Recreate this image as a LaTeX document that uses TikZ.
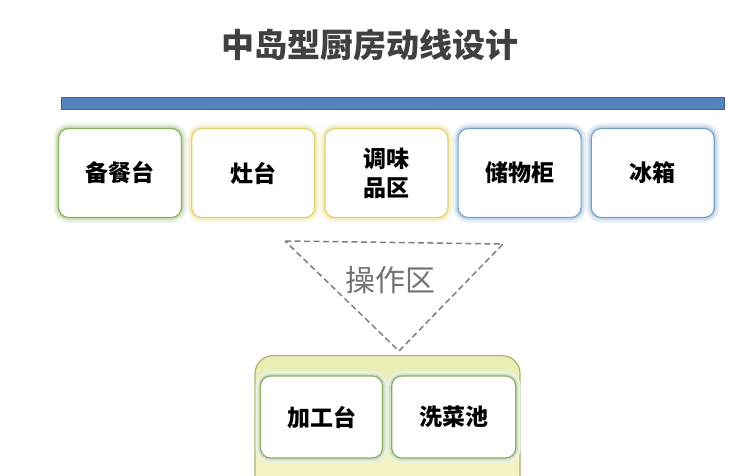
\documentclass[tikz,border=0pt]{standalone}
\usepackage{fontspec}
\newfontfamily\cjk{Noto Sans CJK SC}
\usetikzlibrary{positioning}

\definecolor{baredge}{RGB}{60,100,150}
\definecolor{barfill}{RGB}{84,130,190}
\definecolor{greenedge}{RGB}{140,175,100}
\definecolor{yellowedge}{RGB}{225,210,110}
\definecolor{blueedge}{RGB}{120,160,200}
\definecolor{islandedge}{RGB}{170,180,110}
\definecolor{dashgray}{RGB}{120,128,138}

\begin{document}
\begin{tikzpicture}[x=1pt, y=-1pt,
    unit/.style={draw=#1, line width=1.2pt, fill=white, rounded corners=10pt,
      preaction={draw=#1!18, line width=10pt},
      preaction={draw=#1!40, line width=5pt},
      minimum width=123pt, minimum height=89pt, align=center,
      font=\cjk\bfseries\fontsize{23}{29}\selectfont},
    unit/.default=greenedge
  ]
\useasboundingbox (0,0) rectangle (747,476);
\clip (0,0) rectangle (747,476);

% Title
\node (title) at (370,45) {\cjk\bfseries\fontsize{33}{36}\selectfont\color{black!75}中岛型厨房动线设计};

% Wall bar
\node (bar) [draw=baredge, fill=barfill, line width=0.8pt, inner sep=0pt,
  minimum width=663pt, minimum height=12pt] at (392.5,103.5) {};

% Units along the wall
\node[unit=greenedge] (prep) at (120,173) {备餐台};
\node[unit=yellowedge, right=9pt of prep] (stove) {灶台};
\node[unit=yellowedge, right=9pt of stove] (spice) {调味\\品区};
\node[unit=blueedge, right=9pt of spice] (store) {储物柜};
\node[unit=blueedge, right=9pt of store] (fridge) {冰箱};

% Work triangle
\coordinate (tl) at (285,241);
\coordinate (tr) at (503,244);
\coordinate (tb) at (399,351);
\draw[dash pattern=on 6pt off 3.5pt, dashgray, line width=1.5pt] (tl) -- (tr) -- (tb) -- cycle;
\node (work) at (390,280) {\cjk\fontsize{30}{33}\selectfont\color{black!55}操作区};

% Island
\node (island) [draw=islandedge, line width=1.2pt, rounded corners=18pt,
  top color={rgb,255:red,232;green,238;blue,180}, bottom color={rgb,255:red,253;green,246;blue,206},
  minimum width=265pt, minimum height=200pt, anchor=north] at (387.5,355) {};
\node[unit=greenedge, minimum width=122pt, minimum height=82pt] (prepare) at (321.5,417) {加工台};
\node[unit=greenedge, minimum width=124pt, minimum height=82pt, right=8pt of prepare] (sink) {洗菜池};

\end{tikzpicture}
\end{document}
